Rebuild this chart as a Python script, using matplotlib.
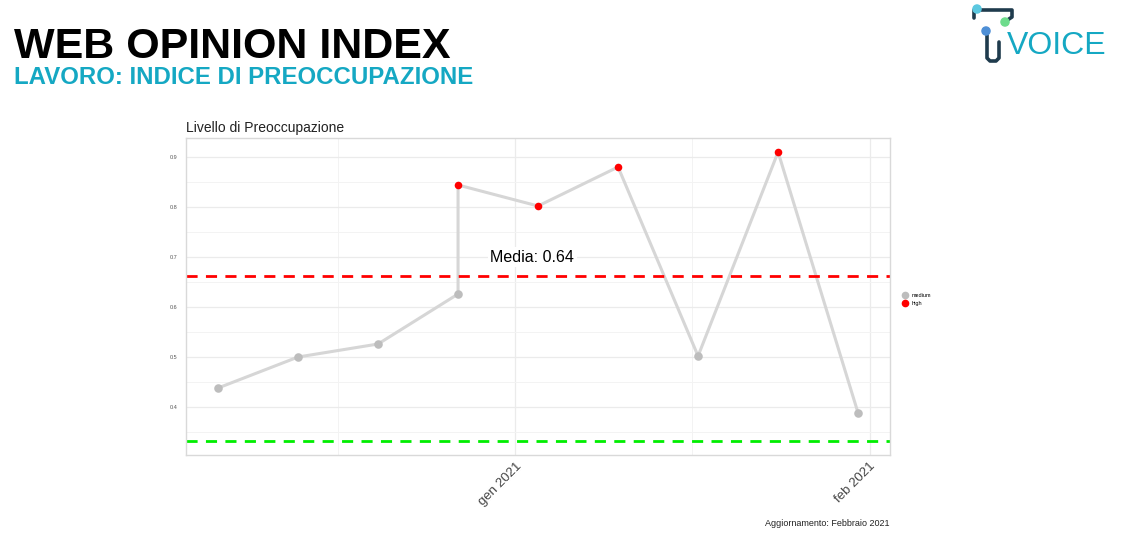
import numpy as np
import pandas as pd
import matplotlib
matplotlib.use("Agg")
import matplotlib.pyplot as plt
import matplotlib.dates as mdates
from matplotlib.lines import Line2D

plt.rcParams['font.family'] = ['Liberation Sans', 'DejaVu Sans']

# weekly values
dates = pd.to_datetime(['2020-12-06', '2020-12-13', '2020-12-20', '2020-12-27',
                        '2020-12-27', '2021-01-03', '2021-01-10', '2021-01-17',
                        '2021-01-24', '2021-01-31'])
values = [0.438, 0.500, 0.526, 0.626, 0.844, 0.802, 0.880, 0.502, 0.910, 0.388]
levels = ['medium', 'medium', 'medium', 'medium', 'high', 'high', 'high',
          'medium', 'high', 'medium']
level_colors = {'medium': '#bdbdbd', 'high': '#ff0000'}
upper_line = 0.662
lower_line = 0.332
media_label = 'Media: 0.64'

fig = plt.figure(figsize=(11.22, 5.45), dpi=100)
ax = fig.add_axes([0.1658, 0.1651, 0.6275, 0.5817])

ax.plot(dates, values, color='#d6d6d6', lw=2.2, zorder=2)
for lvl in ['medium', 'high']:
    d = [x for x, l in zip(dates, levels) if l == lvl]
    v = [y for y, l in zip(values, levels) if l == lvl]
    ax.scatter(d, v, s=38 if lvl == 'medium' else 30, color=level_colors[lvl],
               zorder=3, linewidths=0)

ax.axhline(upper_line, color='#ff0000', lw=2, ls=(0, (4, 3)), zorder=2)
ax.axhline(lower_line, color='#00ee00', lw=2, ls=(0, (4, 3)), zorder=2)

ax.text(pd.Timestamp('2021-01-02 12:00'), 0.70, media_label, fontsize=11.5, ha='center',
        va='center', bbox=dict(facecolor='white', edgecolor='none', pad=2), zorder=4)

span = dates.max() - dates.min()
ax.set_xlim(dates.min() - span * 0.05, dates.max() + span * 0.05)
ax.set_ylim(0.304, 0.938)

ax.set_yticks([0.4, 0.5, 0.6, 0.7, 0.8, 0.9])
ax.set_yticks([0.35, 0.45, 0.55, 0.65, 0.75, 0.85], minor=True)
ax.set_yticklabels(['0.4', '0.5', '0.6', '0.7', '0.8', '0.9'], fontsize=4, color='#555555')
xt = pd.to_datetime(['2021-01-01', '2021-02-01'])
ax.set_xticks(xt)
ax.set_xticks(pd.to_datetime(['2020-12-16 12:00', '2021-01-16 12:00']), minor=True)
ax.set_xticklabels(['gen 2021', 'feb 2021'], rotation=45, ha='right',
                   rotation_mode='anchor', fontsize=9.5, color='#444444')
ax.tick_params(which='both', length=0, pad=4)
ax.tick_params(axis='y', pad=6)

ax.grid(which='major', color='#ebebeb', lw=0.9)
ax.grid(which='minor', color='#f3f3f3', lw=0.7)
ax.set_axisbelow(True)
for s in ax.spines.values():
    s.set_color('#d9d9d9')
    s.set_linewidth(1)

ax.set_title('Livello di Preoccupazione', loc='left', fontsize=10, pad=4, color='#222222')

handles = [Line2D([], [], marker='o', ls='', color=level_colors[k], markersize=4.5)
           for k in ['medium', 'high']]
fig.legend(handles, ['medium', 'high'], loc='center left', bbox_to_anchor=(0.797, 0.45),
           frameon=False, fontsize=4, handletextpad=0.2, labelspacing=0.5)

# header
fig.text(0.0125, 1 - 58 / 545, 'WEB OPINION INDEX', fontsize=31, fontweight='bold',
         color='black', va='baseline', ha='left')
fig.text(0.0125, 1 - 84.5 / 545, 'LAVORO: INDICE DI PREOCCUPAZIONE', fontsize=17.3,
         fontweight='bold', color='#15a8c3', va='baseline', ha='left')
fig.text(0.7932, 0.04, 'Aggiornamento: Febbraio 2021', fontsize=6.5, ha='right',
         va='center', color='#222222')

# logo, drawn in pixel coordinates
lax = fig.add_axes([0, 0, 1, 1], facecolor='none')
lax.set_xlim(0, 1122)
lax.set_ylim(545, 0)
lax.axis('off')
navy = '#1f3b4d'
lax.plot([974, 974, 1012, 1012, 1006], [18, 10, 10, 17, 21], color=navy, lw=2.6,
         solid_capstyle='round', solid_joinstyle='round')
lax.plot([987, 987, 990, 996, 999, 999], [32, 58, 61, 61, 58, 42], color=navy, lw=2.6,
         solid_capstyle='round', solid_joinstyle='round')
lax.scatter([977, 1005, 986], [9, 22, 31], s=34,
            color=['#5bc8e0', '#6ddc8c', '#4e8fd6'], zorder=3)
fig.text(1007 / 1122, 1 - 54 / 545, 'VOICE', fontsize=23, color='#15a8c3',
         va='baseline', ha='left')

fig.savefig('out.png', dpi=100)
